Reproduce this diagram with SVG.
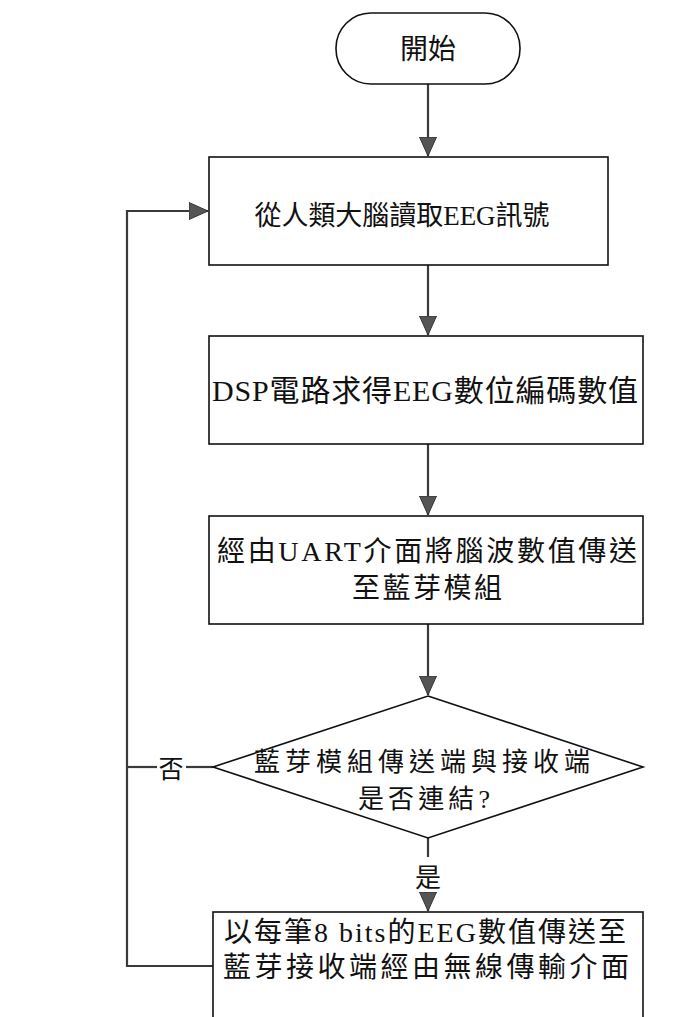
<svg xmlns="http://www.w3.org/2000/svg" width="673" height="1017" viewBox="0 0 673 1017">
<style>
.shape{fill:#fff;stroke:#111;stroke-width:1.6}
.conn{fill:none;stroke:#3a3a3a;stroke-width:2.2}
.t{font-family:"Liberation Serif","Noto Sans CJK TC",serif;fill:#111;text-anchor:middle}
</style>
<defs>
<marker id="ah" markerUnits="userSpaceOnUse" markerWidth="20" markerHeight="20" viewBox="0 0 20 20" refX="19" refY="10" orient="auto">
<path d="M0,1.5 L19,10 L0,18.5 Z" fill="#555" stroke="#333" stroke-width="1"/>
</marker>
</defs>
<rect width="673" height="1017" fill="#fff"/>
<g id="connectors">
<path class="conn" d="M428,84 V156" marker-end="url(#ah)"/>
<path class="conn" d="M428,265 V335" marker-end="url(#ah)"/>
<path class="conn" d="M428,444 V515" marker-end="url(#ah)"/>
<path class="conn" d="M428,624 V695" marker-end="url(#ah)"/>
<path class="conn" d="M428,838 V857"/>
<path class="conn" d="M428,892 V911" marker-end="url(#ah)"/>
<path class="conn" d="M213,966 H127 V211 H208" marker-end="url(#ah)"/>
<path class="conn" d="M213,767 H186"/>
<path class="conn" d="M157,767 H127"/>
<text class="t" x="171" y="778" font-size="25">否</text>
<text class="t" x="428" y="887" font-size="26">是</text>
</g>
<g id="start">
<rect class="shape" x="336" y="13" width="184" height="71" rx="35" ry="35"/>
<text class="t" x="428" y="59" font-size="28">開始</text>
</g>
<g id="read">
<rect class="shape" x="209" y="157" width="399" height="108"/>
<text class="t" x="402" y="225" font-size="27" textLength="295" lengthAdjust="spacing">從人類大腦讀取EEG訊號</text>
</g>
<g id="dsp">
<rect class="shape" x="209" y="336" width="434" height="108"/>
<text class="t" x="425" y="401" font-size="30" textLength="426" lengthAdjust="spacing">DSP電路求得EEG數位編碼數值</text>
</g>
<g id="uart">
<rect class="shape" x="209" y="516" width="434" height="108"/>
<text class="t" x="427" y="561" font-size="28" textLength="420" lengthAdjust="spacing">經由UART介面將腦波數值傳送</text>
<text class="t" x="427" y="598" font-size="28" textLength="150" lengthAdjust="spacing">至藍芽模組</text>
</g>
<g id="decision">
<polygon class="shape" points="428,696 643,767 428,838 213,767"/>
<text class="t" x="422" y="771" font-size="26" textLength="336" lengthAdjust="spacing">藍芽模組傳送端與接收端</text>
<text class="t" x="424" y="808" font-size="26" textLength="132" lengthAdjust="spacing">是否連結?</text>
</g>
<g id="transmit">
<rect class="shape" x="213" y="912" width="430" height="120"/>
<text class="t" x="425" y="942" font-size="28" textLength="402" lengthAdjust="spacing">以每筆8 bits的EEG數值傳送至</text>
<text class="t" x="426" y="977" font-size="28" textLength="406" lengthAdjust="spacing">藍芽接收端經由無線傳輸介面</text>
</g>
</svg>
